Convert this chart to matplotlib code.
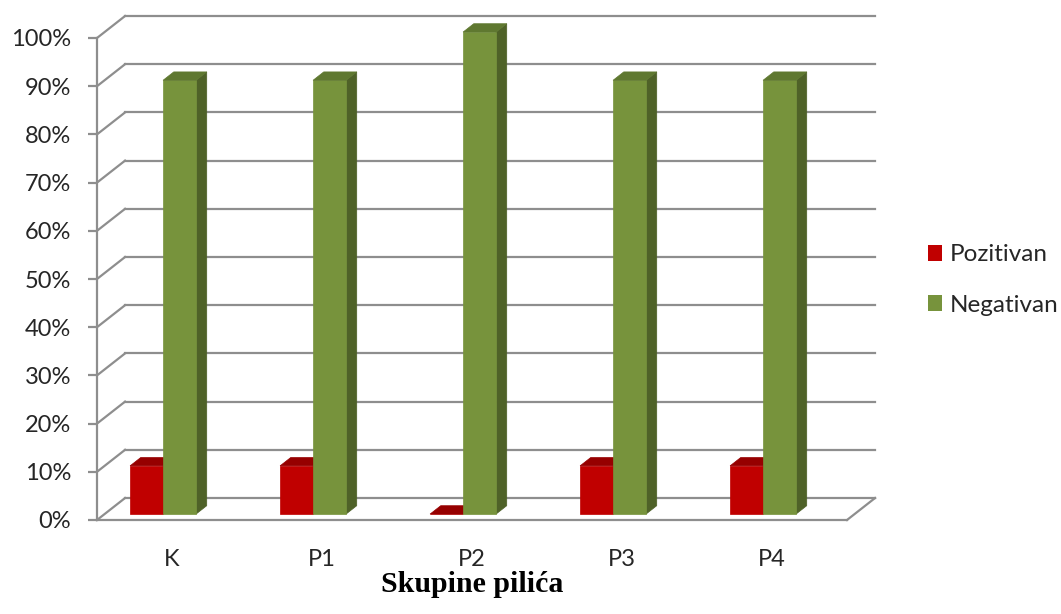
import numpy as np
import matplotlib
matplotlib.use('Agg')
import matplotlib.pyplot as plt
from matplotlib.patches import Polygon, Patch

# data
categories = ['K', 'P1', 'P2', 'P3', 'P4']
pozitivan = [10, 10, 0, 10, 10]
negativan = [90, 90, 100, 90, 90]
series_names = ['Pozitivan', 'Negativan']
yticks = list(range(0, 101, 10))

# colours (front, top, side)
red = ('#C00000', '#960000', '#7F0000')
green = ('#77933C', '#5F7830', '#4F6228')
grid_col = '#8E8E8E'
txt_col = '#262626'

# 3D look: depth of the wall in data units
WALL_DX = 0.187
WALL_DY = 4.56
F0, F1 = 0.27, 0.65     # bar front / back depth (fraction of wall)
BW = 0.22               # bar width


def sh(x, y, f):
    return (x + f * WALL_DX, y + f * WALL_DY)


def bar3d(ax, x0, h, cols):
    x1 = x0 + BW
    front = [sh(x0, 0, F0), sh(x1, 0, F0), sh(x1, h, F0), sh(x0, h, F0)]
    side = [sh(x1, 0, F0), sh(x1, 0, F1), sh(x1, h, F1), sh(x1, h, F0)]
    top = [sh(x0, h, F0), sh(x1, h, F0), sh(x1, h, F1), sh(x0, h, F1)]
    for pts, c in ((side, cols[2]), (front, cols[0]), (top, cols[1])):
        ax.add_patch(Polygon(pts, closed=True, facecolor=c, edgecolor=c,
                             lw=0.5, clip_on=False, zorder=3))


W, H = 1061, 614
fig = plt.figure(figsize=(W / 100, H / 100), dpi=100)
ax = fig.add_axes([97 / W, (H - 520) / H, 750 / W, 482 / H])
n = len(categories)
ax.set_xlim(0, n)
ax.set_ylim(0, 100)

# walls: side wall diagonals + back wall gridlines
for v in yticks:
    xa, ya = sh(0, v, 1)
    ax.plot([0, xa], [v, ya], color=grid_col, lw=1.6, clip_on=False, zorder=1)
    ax.plot([xa, n + WALL_DX], [ya, ya], color=grid_col, lw=1.6,
            clip_on=False, zorder=1)
# floor
ax.plot([0, n], [0, 0], color=grid_col, lw=1.6, clip_on=False, zorder=2)
xb, yb = sh(n, 0, 1)
ax.plot([n, xb], [0, yb], color=grid_col, lw=1.6, clip_on=False, zorder=2)

for i in range(n):
    c = i + 0.5
    bar3d(ax, c - 0.33, pozitivan[i], red)
    bar3d(ax, c - 0.11, negativan[i], green)

for s in ['top', 'right', 'bottom']:
    ax.spines[s].set_visible(False)
ax.spines['left'].set_color(grid_col)
ax.spines['left'].set_linewidth(1.6)
ax.set_yticks(yticks)
ax.set_yticklabels([f'{v}%' for v in yticks], fontsize=17, fontfamily='Lato',
                   color=txt_col)
ax.tick_params(axis='y', length=6.5, width=1.6, color=grid_col, pad=12)
ax.set_xticks(np.arange(n) + 0.5)
ax.set_xticklabels(categories, fontsize=17, fontfamily='Lato', color=txt_col)
ax.tick_params(axis='x', length=0, pad=21)
ax.set_xlabel('Skupine pilića', fontsize=21.5, fontweight='bold',
              fontfamily='Liberation Serif', labelpad=0.5)
ax.patch.set_visible(False)

handles = [Patch(facecolor=red[0]), Patch(facecolor=green[0])]
fig.legend(handles, series_names, loc='center left',
           bbox_to_anchor=(906 / W, 1 - 280 / H), frameon=False,
           prop={'family': 'Lato', 'size': 17.5}, handlelength=0.6,
           handleheight=0.6, handletextpad=0.3, labelspacing=1.2,
           labelcolor=txt_col)

fig.savefig('out.png', dpi=100)
